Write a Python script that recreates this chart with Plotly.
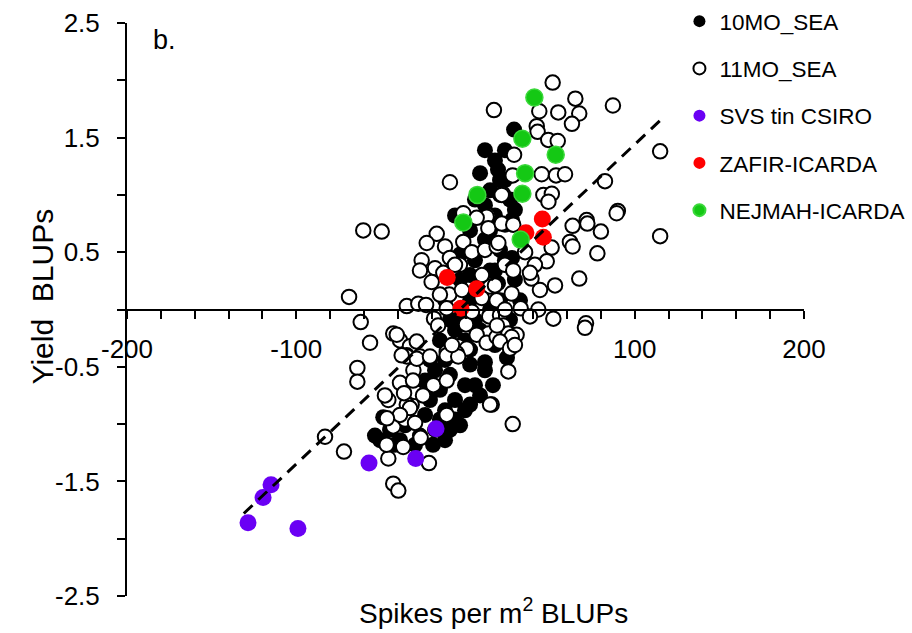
import plotly.graph_objects as go

# ---- data: yield BLUPs vs spikes per m2 BLUPs ----
# 10MO_SEA lines
sea10_x = [28.7, 8.6, 19.2, 23.3, 14.5, 26.3, 29.2, 17.4, 23.3, -6.2,
           2.7, 11.5, 20.4, 5.6, 14.5, -3.2, 8.6, 20.4, 2.7, 14.5,
           26.3, 8.6, -0.3, 17.4, 24.5, -6.2, 2.7, 11.5, -9.2, -0.3,
           8.6, -15.1, -6.2, -21.0, -12.1, -0.3, -23.9, -15.1, -6.2, -18.0,
           -26.9, -35.7, -38.7, -44.6, -50.5, -53.5, -29.8, -41.7, 16.2, 11.5,
           32.2, 29.2, 17.4, -9.2, -15.1, -6.2, -21.0, -12.1, 5.6, 14.5,
           5.6, 23.3, 27.5, 19.2, -3.2, 20.4, -48.6, -18.0, -23.9, -9.2,
           -3.2, 2.7, 5.6, -12.1, -19.2, 17.4, 11.5, 23.3, 20.4, 27.5,
           11.5, 2.7, 11.5, 20.4, 23.3, -3.2, -12.1, 2.7]
sea10_y = [1.57, 1.19, 1.22, 1.13, 1.04, 0.96, 0.87, 0.82, 0.74, 0.82,
           0.69, 0.61, 0.52, 0.43, 0.34, 0.26, 0.17, 0.08, 0.08, 0.00,
           -0.09, -0.18, -0.27, -0.31, -0.42, -0.40, -0.48, -0.53, -0.57, -0.66,
           -0.75, -0.70, -0.79, -0.79, -0.88, -0.88, -0.92, -0.96, -0.96, -1.05,
           -1.10, -1.01, -1.14, -1.05, -1.14, -1.10, -1.18, -1.18, -0.66, -0.46,
           0.08, 0.26, 0.34, -0.09, -0.27, -0.18, -0.44, -0.44, -0.09, 0.69,
           0.96, 0.43, 0.45, 0.23, 0.48, 1.00, -0.94, -0.53, -0.62, -1.05,
           -1.01, -0.83, -0.66, -1.14, -1.18, 1.30, 1.39, 1.39, 1.13, 0.78,
           0.91, 0.30, 0.21, -0.09, -0.22, -0.09, 0.08, -0.35]

# 11MO_SEA lines
sea11_x = [51.5, 16.8, 43.6, 54.8, 64.9, 67.2, 62.9, 87.1, 42.1, 42.6,
           48.9, 54.5, 28.7, 45.0, 53.5, 58.8, 46.0, 51.0, 49.0, 82.4,
           90.0, 115.0, 22.0, 27.9, 71.6, -9.2, 21.4, -1.3, 13.3, -60.4,
           -49.5, -68.8, -61.9, -56.4, -34.7, -27.9, -42.7, -38.7, 12.5, -17.0,
           -22.9, -12.1, -1.3, 3.7, 11.5, -25.9, -26.9, -18.0, -20.0, -3.3,
           -9.6, -11.1, -18.6, 0.3, 14.5, 14.0, 13.5, 6.6, -11.1, -4.3,
           -32.8, -28.8, -34.7, 6.6, 13.5, 18.4, 9.6, 18.4, 0.7, 12.5,
           18.4, -5.2, -40.6, -26.9, -13.1, -9.2, 89.3, 63.3, 72.0, 80.0,
           61.7, 63.3, 50.9, 77.9, 115.0, 48.0, 41.0, 67.2, 39.0, 52.9,
           44.0, 27.3, 43.0, 32.6, 38.1, 51.9, 71.2, 20.4, 22.3, 25.3,
           30.2, 26.3, 21.4, 28.2, 19.4, 23.3, 28.2, 17.4, 38.1, 35.2,
           23.3, 27.3, 20.4, 26.3, 29.2, 25.3, 15.5, 27.9, 70.6, -63.9,
           -63.9, -71.8, -83.0, -21.6, -45.6, -42.7, -39.7, -46.6, -36.8, -26.5,
           -42.7, -35.7, -29.8, -31.8, -45.6, -47.6, -38.7, -30.8, -34.7, -19.0,
           -11.1, -11.1, 14.5, -37.7, -28.8, -21.0, -11.1, -4.3, -29.8, -34.7,
           3.8, 9.7, -2.1, -6.2, 18.6, -8.0, -16.2, -23.3, -15.1, -31.0,
           -25.1, -32.8, -38.7, -46.4, -36.3]
sea11_y = [1.98, 1.74, 1.73, 1.72, 1.84, 1.71, 1.62, 1.78, 1.60, 1.55,
           1.48, 1.47, 1.35, 1.18, 1.17, 1.18, 1.00, 1.01, 0.94, 1.12,
           0.86, 1.38, 1.01, 1.17, 0.78, 1.11, 1.00, 0.84, 0.82, 0.69,
           0.68, 0.11, -0.11, -0.29, 0.03, 0.05, -0.21, -0.27, 0.81, 0.66,
           0.58, 0.55, 0.59, 0.50, 0.52, 0.43, 0.34, 0.36, 0.24, 0.39,
           0.13, 0.01, -0.08, -0.13, 0.20, -0.06, -0.21, -0.22, -0.37, -0.32,
           -0.32, -0.28, -0.40, 0.80, 0.71, 0.55, 0.10, 0.08, -0.34, -0.29,
           -0.24, -0.38, -0.22, -0.41, 0.32, 0.45, 0.84, 0.73, 0.75, 0.68,
           0.59, 0.55, 0.54, 0.49, 0.64, 0.42, 0.39, 0.27, 0.27, 0.21,
           0.17, 0.14, 0.00, 0.01, -0.06, -0.08, -0.12, -0.05, -0.14, -0.21,
           -0.22, -0.32, 0.75, 0.74, 0.58, 0.39, 0.34, 0.21, 0.32, 0.50,
           0.00, -0.24, -0.28, -0.34, -0.31, -0.54, -0.83, -1.00, -0.16, -0.51,
           -0.63, -1.24, -1.11, -1.34, -1.30, -1.52, -1.58, -1.18, -1.20, -1.12,
           -1.02, -0.96, -0.99, -0.83, -0.79, -0.75, -0.64, -0.53, -0.41, -0.66,
           -0.62, -0.92, -0.83, -0.40, -0.43, -0.41, -0.40, -0.41, -0.72, -0.83,
           -0.02, 0.30, 0.17, 0.39, -0.14, -0.31, -0.14, 0.04, 0.13, -0.62,
           -0.75, -0.86, -0.92, -0.95, -0.73]

# checks
svs_x = [-128.5, -119.6, -114.9, -99.0, -57.0, -29.4, -17.4]
svs_y = [-1.86, -1.64, -1.53, -1.91, -1.34, -1.30, -1.04]

zafir_x = [45.4, 35.7, 46.0, -10.8, 6.6, -2.7]
zafir_y = [0.79, 0.67, 0.63, 0.28, 0.18, 0.01]

nejmah_x = [40.7, 33.6, 53.3, 35.2, 33.6, 7.0, -1.3, 32.6]
nejmah_y = [1.85, 1.49, 1.35, 1.19, 1.01, 1.00, 0.76, 0.61]

# fitted trend line end points
trend_x = [-131.0, 115.0]
trend_y = [-1.78, 1.65]

x_ticks = [-200, -100, 100, 200]
x_tick_text = ["-200", "-100", "100", "200"]
y_ticks = [-2.5, -1.5, -0.5, 0.5, 1.5, 2.5]
y_tick_text = ["-2.5", "-1.5", "-0.5", "0.5", "1.5", "2.5"]

FONT = "Liberation Sans, Arial, sans-serif"

fig = go.Figure()

fig.add_trace(go.Scatter(
    x=sea10_x, y=sea10_y, mode="markers", name="10MO_SEA", legendgroup="g1",
    marker=dict(size=16, color="black", line=dict(width=0))))
fig.add_trace(go.Scatter(
    x=sea11_x, y=sea11_y, mode="markers", name="11MO_SEA", legendgroup="g2",
    marker=dict(size=14.5, color="white", line=dict(width=2, color="black"))))
fig.add_trace(go.Scatter(
    x=svs_x, y=svs_y, mode="markers", name="SVS tin CSIRO", legendgroup="g3",
    marker=dict(size=17, color="#6A00F4", line=dict(width=0))))
fig.add_trace(go.Scatter(
    x=zafir_x, y=zafir_y, mode="markers", name="ZAFIR-ICARDA", legendgroup="g4",
    marker=dict(size=17, color="#FF0000", line=dict(width=0))))
fig.add_trace(go.Scatter(
    x=nejmah_x, y=nejmah_y, mode="markers", name="NEJMAH-ICARDA", legendgroup="g5",
    marker=dict(size=17, color="#14C814", line=dict(width=1.5, color="#3AD83A"))))
fig.add_trace(go.Scatter(
    x=trend_x, y=trend_y, mode="lines", showlegend=False, hoverinfo="skip",
    line=dict(color="black", width=3, dash="12px,8px")))

fig.add_annotation(x=-178, y=2.35, xref="x", yref="y", text="b.",
                   showarrow=False, font=dict(size=27, color="black"))
fig.add_annotation(x=0.542, y=0, xref="paper", yref="paper", yanchor="top",
                   yshift=5, text="Spikes per m<sup>2</sup> BLUPs",
                   showarrow=False, font=dict(size=28, color="black"))
fig.add_annotation(x=-0.152, y=0.522, xref="paper", yref="paper",
                   textangle=-90, text="Yield\u00a0 BLUPs",
                   showarrow=False, font=dict(size=30, color="black"))

fig.update_layout(
    width=912, height=633,
    margin=dict(l=127, r=108, t=23, b=37, autoexpand=False),
    paper_bgcolor="white", plot_bgcolor="white",
    font=dict(family=FONT, color="black"),
    showlegend=True,
    legend=dict(x=0.745, y=1.02, xref="container", yref="container",
                xanchor="left", yanchor="top", bgcolor="rgba(0,0,0,0)",
                font=dict(size=22.5, color="black"), itemsizing="constant",
                tracegroupgap=15),
    xaxis=dict(range=[-200, 200], anchor="free", position=0.5,
               showline=True, linecolor="black", linewidth=2,
               showgrid=False, zeroline=False,
               tickmode="array", tickvals=x_ticks, ticktext=x_tick_text,
               ticks="outside", ticklen=8, tickwidth=2, tickcolor="black",
               ticklabelstandoff=8,
               tickfont=dict(size=26, color="black"),
               minor=dict(dtick=20, tick0=0, ticks="outside", ticklen=8,
                          tickwidth=2, tickcolor="black", showgrid=False)),
    yaxis=dict(range=[-2.5, 2.5], showline=True, linecolor="black", linewidth=2,
               showgrid=False, zeroline=False,
               tickmode="array", tickvals=y_ticks, ticktext=y_tick_text,
               ticks="outside", ticklen=8, tickwidth=2, tickcolor="black",
               ticklabelstandoff=12,
               tickfont=dict(size=26, color="black"),
               minor=dict(dtick=0.5, tick0=0, ticks="outside", ticklen=8,
                          tickwidth=2, tickcolor="black", showgrid=False)),
)

fig.write_html("out.html")
